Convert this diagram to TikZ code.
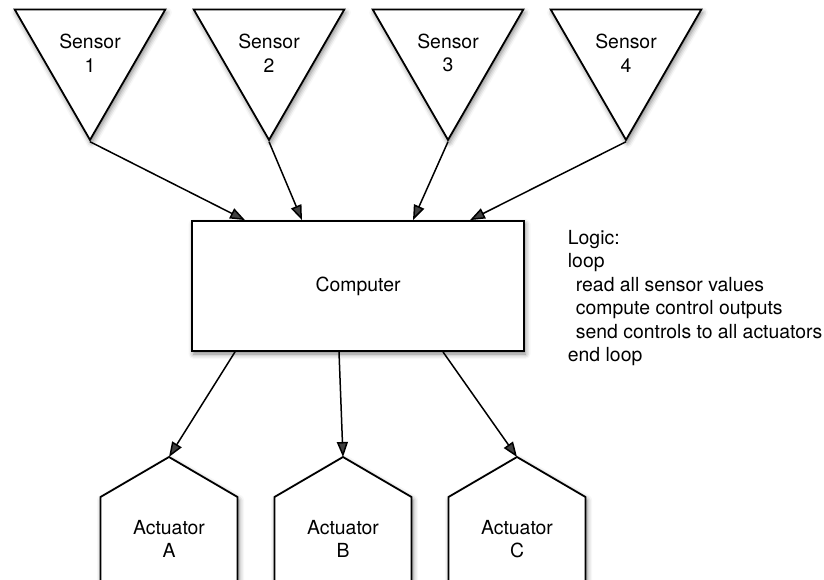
\documentclass[tikz,border=0pt]{standalone}
\usepackage{fontspec}
\setmainfont{TeX Gyre Heros}
\usetikzlibrary{arrows.meta,shapes.geometric,shadows.blur}
\begin{document}
\begin{tikzpicture}[x=1pt,y=-1pt,>={Triangle[length=15pt,width=11pt]},
	font=\fontsize{19.4}{23.5}\selectfont,
	softshadow/.style={blur shadow={shadow xshift=1.5pt,shadow yshift=-3pt,shadow blur radius=5pt,shadow opacity=50}},
	outline/.style={draw,line width=1.8pt,fill=white,softshadow},
	sensor/.style={outline,regular polygon,regular polygon sides=3,shape border rotate=180,minimum size=172pt,inner sep=0pt,align=center},
	computer/.style={outline,minimum width=332pt,minimum height=130pt},
	link/.style={->,line width=1.5pt}]
	\useasboundingbox (0,0) rectangle (824,579);
	\clip (0,0) rectangle (824,579);
	% sensors along the top
	\foreach \i/\x in {1/90,2/269,3/448,4/626}
		\node[sensor] (s\i) at (\x,53) {Sensor\\\i};
	\node[computer] (comp) at (358,286) {Computer};
	% actuators, cut off by the bottom edge
	\foreach \a/\x in {A/169,B/343,C/517}{
		\draw[outline,line join=miter] (\x-68.5,595) -- (\x-68.5,497) -- (\x,457) coordinate (tip\a) -- (\x+68.5,497) -- (\x+68.5,595) -- cycle;
		\node[align=center] (act\a) at (\x,539) {Actuator\\\a};
	}
	\foreach \i/\d in {1/-113,2/-56,3/55,4/112}
		\draw[link] (s\i.corner 1) -- ([xshift=\d pt]comp.north);
	\foreach \a/\d in {A/-123,B/-19,C/85}
		\draw[link] ([xshift=\d pt]comp.south) -- (tip\a);
	\node[anchor=north west,inner sep=0pt,align=left] (logic) at (567.7,229.8) {Logic:\\loop\\\hspace*{8pt}read all sensor values\\\hspace*{8pt}compute control outputs\\\hspace*{8pt}send controls to all actuators\\end loop};
\end{tikzpicture}
\end{document}
